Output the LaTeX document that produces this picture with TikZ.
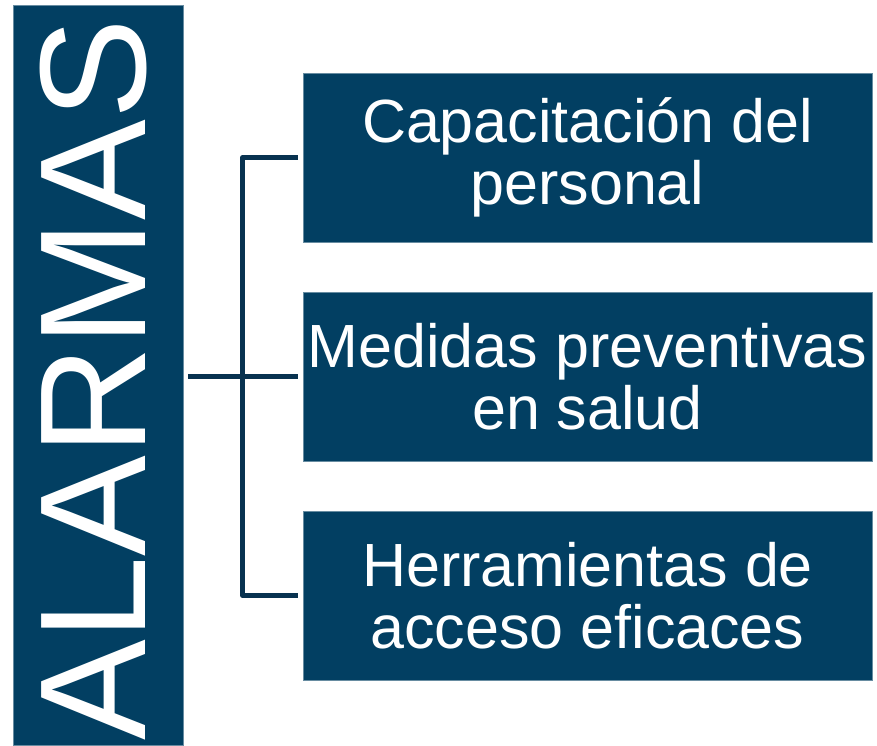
\documentclass[tikz,border=0pt]{standalone}
\usepackage{fontspec}
\setmainfont{Liberation Sans}
\definecolor{navy}{RGB}{2,63,98}
\definecolor{linec}{RGB}{8,50,80}
\tikzset{
  x=1pt,y=1pt,
  boxstyle/.style={fill=navy, draw=navy!60!white, line width=0.8pt, minimum width=569pt, minimum height=169pt, inner sep=0pt, text=white, align=center, font=\fontsize{61}{62}\selectfont},
  conn/.style={draw=linec, line width=5pt, line join=round}
}
\begin{document}
\begin{tikzpicture}
\useasboundingbox (0,0) rectangle (877,745);
\node[fill=navy, draw=navy!60!white, line width=0.8pt, minimum width=170pt, minimum height=740pt, inner sep=0pt] (bar) at (98,370) {};
\node[rotate=90, anchor=base, text=white, font=\fontsize{151}{151}\selectfont, inner sep=0pt] (title) at (145,365) {ALARMAS};
\node[boxstyle] (b1) at (587.5,587.5) {Capacitación del\\personal};
\node[boxstyle] (b2) at (587.5,368.5) {Medidas preventivas\\en salud};
\node[boxstyle] (b3) at (587.5,149.5) {Herramientas de\\acceso eficaces};
\draw[conn] ([xshift=5pt]bar.east |- b2.west) -- ([xshift=-5pt]b2.west);
\draw[conn] ([xshift=-5pt]b1.west) -| ([xshift=-60pt]b3.west) -- ([xshift=-5pt]b3.west);
\end{tikzpicture}
\end{document}
